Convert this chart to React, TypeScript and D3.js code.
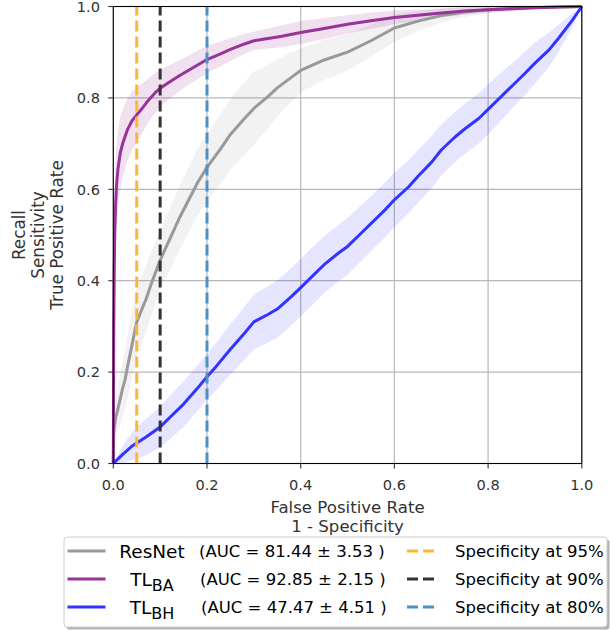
import React from "react";
import * as d3 from "d3";

// ---------- data ----------
const resnetFpr = [0, 0.001, 0.005, 0.01, 0.02, 0.025, 0.03, 0.04, 0.05, 0.06, 0.07, 0.08, 0.1, 0.12, 0.14, 0.16, 0.18, 0.2, 0.23, 0.25, 0.28, 0.3, 0.33, 0.35, 0.38, 0.4, 0.45, 0.5, 0.55, 0.6, 0.65, 0.7, 0.75, 0.8, 0.85, 0.9, 0.95, 1.0];
const resnetTpr = [0, 0.07, 0.1, 0.12, 0.165, 0.183, 0.21, 0.26, 0.31, 0.335, 0.36, 0.39, 0.445, 0.49, 0.535, 0.575, 0.615, 0.648, 0.69, 0.72, 0.755, 0.777, 0.803, 0.822, 0.845, 0.86, 0.883, 0.9, 0.925, 0.953, 0.968, 0.98, 0.988, 0.993, 0.996, 0.998, 0.999, 1.0];
const resnetStd = [0, 0.03, 0.04, 0.05, 0.06, 0.065, 0.07, 0.072, 0.075, 0.075, 0.072, 0.07, 0.065, 0.068, 0.07, 0.072, 0.073, 0.073, 0.076, 0.078, 0.08, 0.08, 0.07, 0.062, 0.055, 0.048, 0.044, 0.04, 0.035, 0.03, 0.022, 0.015, 0.011, 0.008, 0.006, 0.004, 0.002, 0];

const baFpr = [0, 0.0005, 0.001, 0.002, 0.003, 0.005, 0.007, 0.01, 0.015, 0.02, 0.03, 0.04, 0.05, 0.06, 0.075, 0.09, 0.1, 0.12, 0.14, 0.16, 0.18, 0.2, 0.23, 0.25, 0.28, 0.3, 0.33, 0.36, 0.4, 0.45, 0.5, 0.55, 0.6, 0.65, 0.7, 0.75, 0.8, 0.85, 0.9, 0.95, 1.0];
const baTpr = [0, 0.15, 0.3, 0.42, 0.5, 0.57, 0.61, 0.645, 0.68, 0.7, 0.73, 0.75, 0.763, 0.775, 0.795, 0.812, 0.821, 0.835, 0.848, 0.86, 0.872, 0.884, 0.897, 0.906, 0.918, 0.925, 0.93, 0.935, 0.943, 0.952, 0.961, 0.969, 0.976, 0.981, 0.986, 0.99, 0.993, 0.995, 0.997, 0.999, 1.0];
const baStd = [0, 0.05, 0.08, 0.1, 0.1, 0.1, 0.09, 0.085, 0.08, 0.075, 0.068, 0.064, 0.06, 0.055, 0.048, 0.043, 0.04, 0.037, 0.034, 0.032, 0.031, 0.03, 0.027, 0.025, 0.022, 0.02, 0.022, 0.024, 0.025, 0.023, 0.02, 0.018, 0.015, 0.012, 0.01, 0.008, 0.006, 0.005, 0.003, 0.002, 0];

const bhFpr = [0, 0.02, 0.04, 0.05, 0.07, 0.1, 0.12, 0.15, 0.18, 0.2, 0.22, 0.25, 0.28, 0.3, 0.33, 0.35, 0.38, 0.4, 0.43, 0.45, 0.48, 0.5, 0.53, 0.55, 0.58, 0.6, 0.63, 0.65, 0.68, 0.7, 0.73, 0.75, 0.78, 0.8, 0.83, 0.85, 0.88, 0.9, 0.93, 0.95, 0.98, 1.0];
const bhTpr = [0, 0.02, 0.038, 0.045, 0.058, 0.08, 0.1, 0.13, 0.165, 0.19, 0.213, 0.25, 0.285, 0.31, 0.326, 0.338, 0.365, 0.385, 0.415, 0.435, 0.46, 0.475, 0.505, 0.525, 0.555, 0.577, 0.605, 0.628, 0.66, 0.686, 0.715, 0.732, 0.755, 0.775, 0.805, 0.825, 0.855, 0.876, 0.905, 0.93, 0.97, 1.0];
const bhStd = [0, 0.02, 0.03, 0.035, 0.04, 0.045, 0.047, 0.05, 0.05, 0.05, 0.052, 0.055, 0.058, 0.06, 0.062, 0.063, 0.063, 0.063, 0.063, 0.062, 0.062, 0.062, 0.061, 0.06, 0.06, 0.06, 0.058, 0.058, 0.057, 0.056, 0.055, 0.055, 0.055, 0.055, 0.052, 0.05, 0.047, 0.045, 0.038, 0.03, 0.015, 0];

const specLines = [0.05, 0.1, 0.2];
const specLabels = ["Specificity at 95%", "Specificity at 90%", "Specificity at 80%"];
const specColors = ["#ffb733", "#333333", "#4c92c3"];

const modelNames = ["ResNet", "TL", "TL"];
const modelSubs = ["", "BA", "BH"];
const aucTexts = ["(AUC = 81.44 \u00b1 3.53 )", "(AUC = 92.85 \u00b1 2.15 )", "(AUC = 47.47 \u00b1 4.51 )"];
const lineColors = ["#999999", "#993399", "#3333ff"];
const bandColors = ["#808080", "#800080", "#0000ff"];

const ticks = [0, 0.2, 0.4, 0.6, 0.8, 1.0];

export default function App() {
  const W = 610, H = 630;
  const x = d3.scaleLinear().domain([0, 1]).range([113.3, 581.8]);
  const y = d3.scaleLinear().domain([0, 1]).range([463.5, 6.5]);
  const font = "DejaVu Sans, sans-serif";

  const series = [
    { f: resnetFpr, t: resnetTpr, s: resnetStd },
    { f: baFpr, t: baTpr, s: baStd },
    { f: bhFpr, t: bhTpr, s: bhStd },
  ];

  const line = d3.line<[number, number]>().x(d => x(d[0])).y(d => y(d[1]));
  const area = d3.area<[number, number, number]>()
    .x(d => x(d[0]))
    .y0(d => y(Math.max(0, d[1] - d[2])))
    .y1(d => y(Math.min(1, d[1] + d[2])));

  const rows = [551, 579, 607];

  return (
    <svg width={W} height={H} style={{ position: "absolute", left: 0, top: 0, background: "#fff" }} fontFamily={font}>
      {/* grid */}
      {ticks.map(t => (
        <g key={"g" + t}>
          <line x1={x(t)} x2={x(t)} y1={y(0)} y2={y(1)} stroke="#b8b8b8" strokeWidth={1.2} />
          <line x1={x(0)} x2={x(1)} y1={y(t)} y2={y(t)} stroke="#b8b8b8" strokeWidth={1.2} />
        </g>
      ))}
      {/* bands */}
      {series.map((s, i) => (
        <path key={"b" + i}
          d={area(s.f.map((f, j) => [f, s.t[j], s.s[j]] as [number, number, number])) || ""}
          fill={bandColors[i]} fillOpacity={i === 1 ? 0.12 : 0.1} stroke="none" />
      ))}
      {/* curves */}
      {series.map((s, i) => (
        <path key={"l" + i}
          d={line(s.f.map((f, j) => [f, s.t[j]] as [number, number])) || ""}
          fill="none" stroke={lineColors[i]} strokeWidth={3} strokeLinejoin="round" />
      ))}
      {/* specificity lines */}
      {specLines.map((v, i) => (
        <line key={"s" + i} x1={x(v)} x2={x(v)} y1={y(0)} y2={y(1)}
          stroke={specColors[i]} strokeWidth={3} strokeDasharray="11,5" />
      ))}
      {/* frame */}
      <rect x={x(0)} y={y(1)} width={x(1) - x(0)} height={y(0) - y(1)} fill="none" stroke="#000" strokeWidth={1.1} />
      {/* ticks */}
      {ticks.map(t => (
        <g key={"t" + t} fontSize={14.6} fill="#333">
          <line x1={x(t)} x2={x(t)} y1={y(0)} y2={y(0) + 5} stroke="#333" strokeWidth={1.1} />
          <text x={x(t)} y={489.5} textAnchor="middle">{t.toFixed(1)}</text>
          <line x1={x(0) - 5} x2={x(0)} y1={y(t)} y2={y(t)} stroke="#333" strokeWidth={1.1} />
          <text x={100} y={y(t) + 5.3} textAnchor="end">{t.toFixed(1)}</text>
        </g>
      ))}
      {/* axis labels */}
      <g fontSize={16.6} fill="#333" textAnchor="middle">
        <text x={(x(0) + x(1)) / 2} y={512.5}>False Positive Rate</text>
        <text x={(x(0) + x(1)) / 2} y={532}>1 - Specificity</text>
      </g>
      <g fontSize={16.8} fill="#333" textAnchor="middle">
        <text transform={`translate(24.5,235) rotate(-90)`}>Recall</text>
        <text transform={`translate(43.5,235) rotate(-90)`}>Sensitivity</text>
        <text transform={`translate(62.5,235) rotate(-90)`}>True Positive Rate</text>
      </g>
      {/* legend */}
      <rect x={66.5} y={539.5} width={543} height={90} rx={3} fill="#000" fillOpacity={0.3} />
      <rect x={64} y={537} width={543} height={90} rx={3} fill="#fff" stroke="#cccccc" strokeWidth={1} />
      {rows.map((ry, i) => (
        <g key={"lg" + i}>
          <line x1={67.5} x2={105.5} y1={ry} y2={ry} stroke={lineColors[i]} strokeWidth={3} />
          <text x={152} y={ry + 6.5} fontSize={18.5} fill="#000" textAnchor="middle">
            {modelNames[i]}
            {modelSubs[i] ? <tspan fontSize={16} dy={5}>{modelSubs[i]}</tspan> : null}
          </text>
          <text x={199 + i} y={ry + 6} fontSize={16.5} fill="#000">{aucTexts[i]}</text>
          <line x1={407} x2={438} y1={ry} y2={ry} stroke={specColors[i]} strokeWidth={3} strokeDasharray="11,5" />
          <text x={455} y={ry + 6} fontSize={16.5} fill="#000">{specLabels[i]}</text>
        </g>
      ))}
    </svg>
  );
}
